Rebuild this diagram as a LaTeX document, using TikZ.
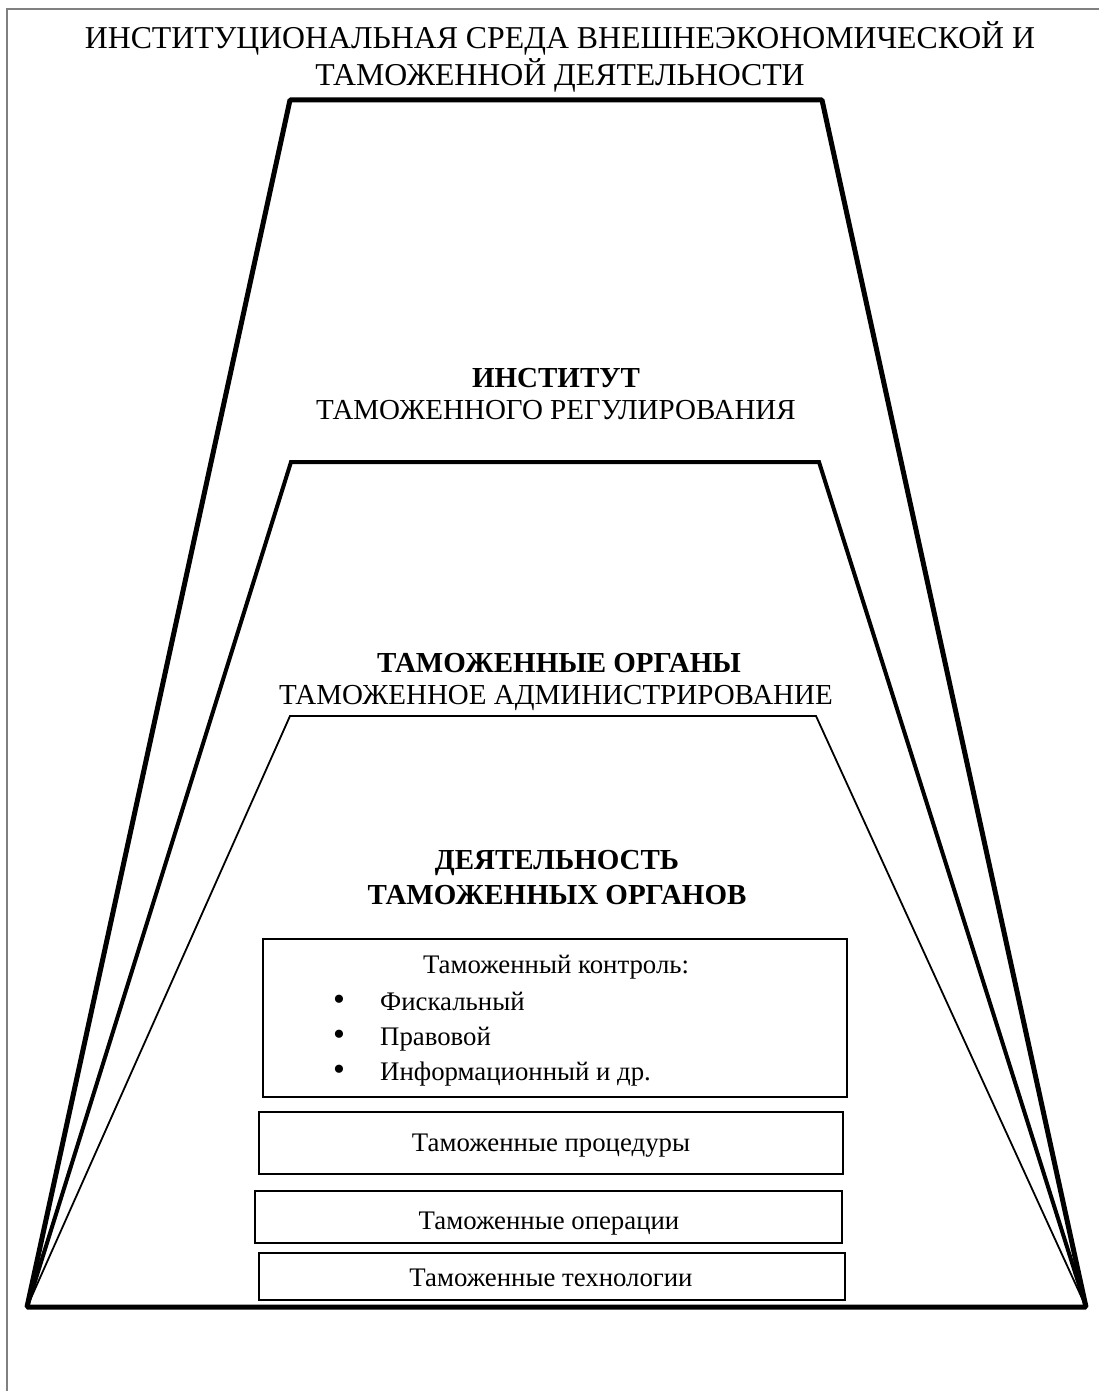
\documentclass[tikz,border=0pt]{standalone}
\usepackage{fontspec}
\setmainfont{Liberation Serif}
\begin{document}
\begin{tikzpicture}[x=1pt,y=-1pt,
  titlest/.style={font=\fontsize{31.8}{37}\selectfont, inner sep=0pt, anchor=base},
  headst/.style={font=\fontsize{29}{32}\selectfont, inner sep=0pt, anchor=base},
  headbf/.style={font=\fontsize{29}{32}\selectfont\bfseries, inner sep=0pt, anchor=base},
  smallst/.style={font=\fontsize{26.8}{30}\selectfont, inner sep=0pt, anchor=base},
  bulletst/.style={font=\fontsize{34}{34}\selectfont, inner sep=0pt, anchor=center},
  boxst/.style={draw=black, line width=1.6pt, inner sep=0pt, minimum width=#1},
  framest/.style={draw=gray, line width=2pt},
  outerst/.style={line width=5pt, line join=bevel},
  midst/.style={line width=4pt, line join=miter},
  innerst/.style={line width=1.8pt, line join=miter}]
\useasboundingbox (0,0) rectangle (1098,1391);
\fill[white] (0,0) rectangle (1098,1391);
% frame
\coordinate (fbl) at (7,1400);
\coordinate (ftl) at (7,9);
\coordinate (ftr) at (1105,9);
\draw[framest] (fbl) -- (ftl) -- (ftr);
% corner coordinates
\coordinate (BL) at (27,1307);
\coordinate (BR) at (1086,1307);
\coordinate (o1) at (290,100);
\coordinate (o2) at (822,100);
\coordinate (m1) at (291,462);
\coordinate (m2) at (819,462);
\coordinate (i1) at (290,716);
\coordinate (i2) at (816,716);
\draw[innerst] (BL) -- (i1) -- (i2) -- (BR);
\draw[midst] (BL) -- (m1) -- (m2) -- (BR);
\draw[outerst] (BL) -- (o1) -- (o2) -- (BR) -- cycle;
% title
\node[titlest] (t1) at (560,48.5) {ИНСТИТУЦИОНАЛЬНАЯ СРЕДА ВНЕШНЕЭКОНОМИЧЕСКОЙ И};
\node[titlest] (t2) at (560,85.5) {ТАМОЖЕННОЙ ДЕЯТЕЛЬНОСТИ};
% level headings
\node[headbf] (h1a) at (556,387.5) {ИНСТИТУТ};
\node[headst] (h1b) at (556,419.5) {ТАМОЖЕННОГО РЕГУЛИРОВАНИЯ};
\node[headbf] (h2a) at (559,672.5) {ТАМОЖЕННЫЕ ОРГАНЫ};
\node[headst] (h2b) at (556,704.5) {ТАМОЖЕННОЕ АДМИНИСТРИРОВАНИЕ};
\node[headbf] (h3a) at (557,869.5) {ДЕЯТЕЛЬНОСТЬ};
\node[headbf] (h3b) at (557,904.5) {ТАМОЖЕННЫХ ОРГАНОВ};
% boxes
\node[boxst=584pt, minimum height=158pt] (b1) at (555,1018) {};
\node[boxst=584pt, minimum height=62pt] (b2) at (551,1143) {};
\node[boxst=587pt, minimum height=52pt] (b3) at (548.5,1217) {};
\node[boxst=586pt, minimum height=47pt] (b4) at (552,1276.5) {};
% box texts
\node[smallst] (k0) at (556,973) {Таможенный контроль:};
\node[bulletst] (d1) at (339,1003) {\textbullet};
\node[bulletst] (d2) at (339,1038) {\textbullet};
\node[bulletst] (d3) at (339,1073) {\textbullet};
\node[smallst, anchor=base west] (k1) at (380,1010) {Фискальный};
\node[smallst, anchor=base west] (k2) at (380,1045) {Правовой};
\node[smallst, anchor=base west] (k3) at (380,1080) {Информационный и др.};
\node[smallst] (p) at (551,1151) {Таможенные процедуры};
\node[smallst] (o) at (549,1229) {Таможенные операции};
\node[smallst] (tt) at (551,1286) {Таможенные технологии};
\end{tikzpicture}
\end{document}
